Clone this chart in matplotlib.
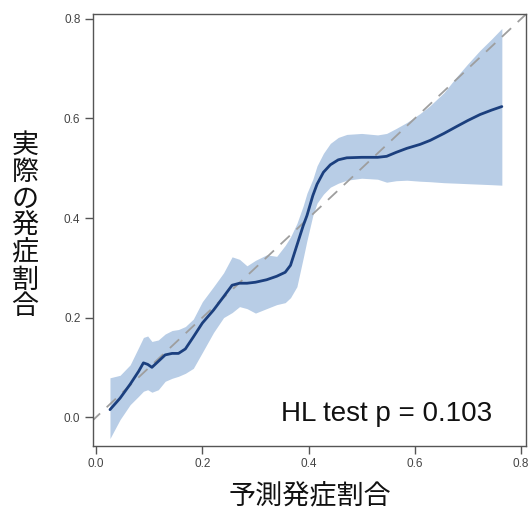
import matplotlib
matplotlib.use("Agg")
import matplotlib.pyplot as plt
import numpy as np

# Calibration curve: predicted vs. observed incidence with confidence band
pred = [0.026, 0.045, 0.064, 0.080, 0.089, 0.097, 0.105, 0.117, 0.130, 0.143,
        0.155, 0.168, 0.183, 0.200, 0.221, 0.240, 0.256, 0.270, 0.284, 0.300,
        0.321, 0.340, 0.356, 0.366, 0.378, 0.390, 0.397, 0.408, 0.416, 0.428,
        0.441, 0.456, 0.472, 0.500, 0.530, 0.547, 0.565, 0.585, 0.610, 0.629,
        0.655, 0.679, 0.700, 0.723, 0.745, 0.764]
observed = [0.015, 0.038, 0.066, 0.092, 0.109, 0.106, 0.100, 0.112, 0.125, 0.128,
            0.128, 0.137, 0.161, 0.189, 0.215, 0.242, 0.265, 0.269, 0.269, 0.271,
            0.276, 0.283, 0.291, 0.305, 0.345, 0.385, 0.405, 0.445, 0.468, 0.492,
            0.507, 0.517, 0.521, 0.522, 0.522, 0.524, 0.532, 0.540, 0.548, 0.556,
            0.570, 0.584, 0.596, 0.608, 0.617, 0.624]
upper = [0.079, 0.084, 0.105, 0.140, 0.160, 0.163, 0.152, 0.155, 0.167, 0.174,
         0.176, 0.182, 0.197, 0.232, 0.262, 0.290, 0.322, 0.317, 0.304, 0.315,
         0.326, 0.323, 0.345, 0.362, 0.389, 0.425, 0.450, 0.478, 0.505, 0.530,
         0.550, 0.562, 0.568, 0.570, 0.567, 0.570, 0.580, 0.592, 0.610, 0.626,
         0.652, 0.684, 0.710, 0.737, 0.760, 0.781]
lower = [-0.043, -0.005, 0.025, 0.042, 0.052, 0.055, 0.050, 0.055, 0.072, 0.078,
         0.082, 0.088, 0.098, 0.130, 0.170, 0.200, 0.210, 0.222, 0.218, 0.209,
         0.218, 0.226, 0.230, 0.240, 0.262, 0.320, 0.355, 0.405, 0.430, 0.448,
         0.462, 0.470, 0.476, 0.480, 0.478, 0.472, 0.475, 0.476, 0.474, 0.473,
         0.471, 0.470, 0.469, 0.468, 0.467, 0.466]

ticks = [0.0, 0.2, 0.4, 0.6, 0.8]
tick_labels = ["0.0", "0.2", "0.4", "0.6", "0.8"]
diag = [-0.01, 0.815]

xlabel = "予測発症割合"
ylabel = "実際の発症割合"
note = "HL test p = 0.103"

cjk = ["Noto Sans CJK JP", "DejaVu Sans"]

fig = plt.figure(figsize=(5.31, 5.16), dpi=100)
ax = fig.add_axes([0.1751, 0.1357, 0.8154, 0.8372])

ax.fill_between(pred, lower, upper, color="#b8cde6", linewidth=0, zorder=1)
ax.plot(diag, diag, color="#9e9e9e", linewidth=1.3, dashes=(7, 5), zorder=2)
ax.plot(pred, observed, color="#1b3f7e", linewidth=2.0, zorder=3,
        solid_capstyle="round", solid_joinstyle="round")

ax.set_xlim(-0.006, 0.8094)
ax.set_ylim(-0.058, 0.81)
ax.set_xticks(ticks)
ax.set_xticklabels(tick_labels)
ax.set_yticks(ticks)
ax.set_yticklabels(tick_labels)
ax.tick_params(direction="out", length=6, width=1, color="#555555",
               labelcolor="#444444", labelsize=8.5, pad=3,
               labelfontfamily="Liberation Sans")

for s in ax.spines.values():
    s.set_color("#555555")
    s.set_linewidth(1.0)

ax.text(0.923, 0.045, note, transform=ax.transAxes, ha="right", va="bottom",
        fontsize=20, family="Liberation Sans", color="#111111")

fig.text(310 / 531, 1 - 497 / 516, xlabel, ha="center", va="center",
         fontsize=19.5, family=cjk, color="#111111")
fig.text(25 / 531, 1 - 226 / 516, "\n".join(ylabel), ha="center", va="center",
         fontsize=19.5, family=cjk, color="#111111", linespacing=1.0)

fig.savefig("out.png", dpi=100)
